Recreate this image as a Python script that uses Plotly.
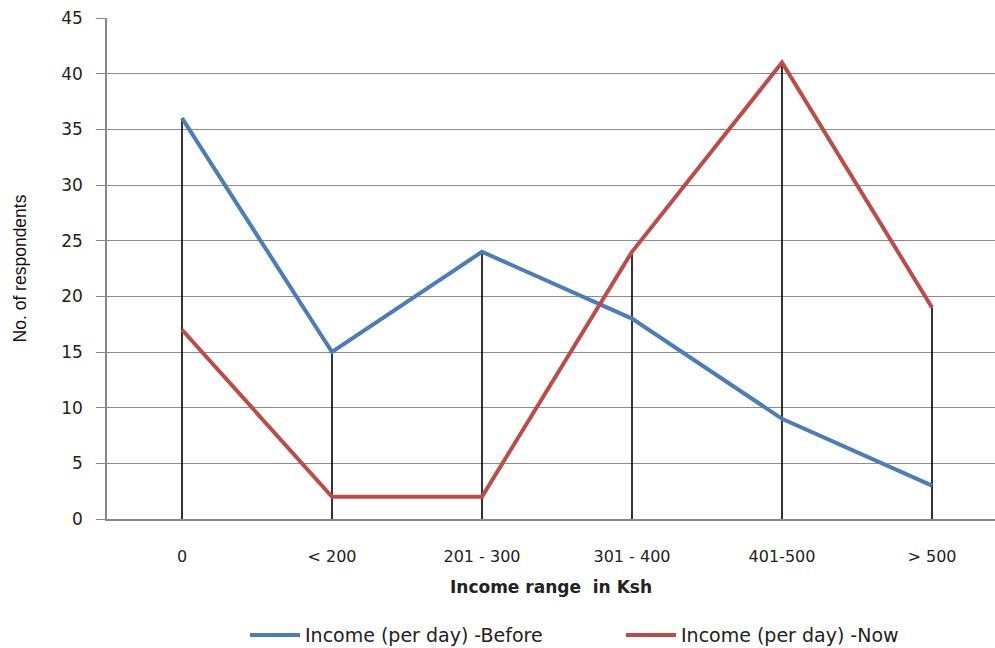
import plotly.graph_objects as go

categories = ["0", "< 200", "201 - 300", "301 - 400", "401-500", "> 500"]
before = [36, 15, 24, 18, 9, 3]
now = [17, 2, 2, 24, 41, 19]

drop_x, drop_y = [], []
for c, b, n in zip(categories, before, now):
    drop_x += [c, c, None]
    drop_y += [0, max(b, n), None]

fig = go.Figure()
fig.add_trace(go.Scatter(x=drop_x, y=drop_y, mode="lines",
                         line=dict(color="black", width=1.6),
                         showlegend=False, hoverinfo="skip"))
fig.add_trace(go.Scatter(x=categories, y=before, mode="lines",
                         name="Income (per day) -Before",
                         line=dict(color="#4A7EBB", width=4)))
fig.add_trace(go.Scatter(x=categories, y=now, mode="lines",
                         name="Income (per day) -Now",
                         line=dict(color="#BE4B48", width=4)))

font = "DejaVu Sans, Verdana, sans-serif"
fig.update_layout(
    width=995, height=648,
    margin=dict(l=107, r=0, t=18, b=129, autoexpand=False),
    paper_bgcolor="white", plot_bgcolor="white",
    font=dict(family=font, size=16, color="#222"),
    legend=dict(orientation="h", xref="container", yref="container",
                x=245 / 995, xanchor="left", y=0.02, yanchor="middle",
                font=dict(size=19, color="#222"), tracegroupgap=0, itemwidth=50,
                entrywidth=311, entrywidthmode="pixels"),
)
fig.update_xaxes(type="category", categoryorder="array", categoryarray=categories,
                 range=[-0.5, 5.42], showgrid=False, showline=True, automargin=False,
                 linecolor="#888", linewidth=1.5, ticks="", ticklabelstandoff=22,
                 tickfont=dict(size=16),
                 title=dict(text="<b>Income range  in Ksh</b>", font=dict(size=17), standoff=16))
fig.update_yaxes(range=[0, 45], dtick=5, showgrid=True, gridcolor="#8c8c8c", gridwidth=1,
                 showline=True, linecolor="#888", linewidth=1.5, ticks="outside", automargin=False,
                 ticklen=9, tickcolor="#888", ticklabelstandoff=10,
                 tickfont=dict(size=17), zeroline=False,
                 title=dict(text="No. of respondents",
                            font=dict(family="Liberation Sans, Arial, sans-serif",
                                      size=17.5, color="#111"), standoff=30))

fig.write_html("out.html")
